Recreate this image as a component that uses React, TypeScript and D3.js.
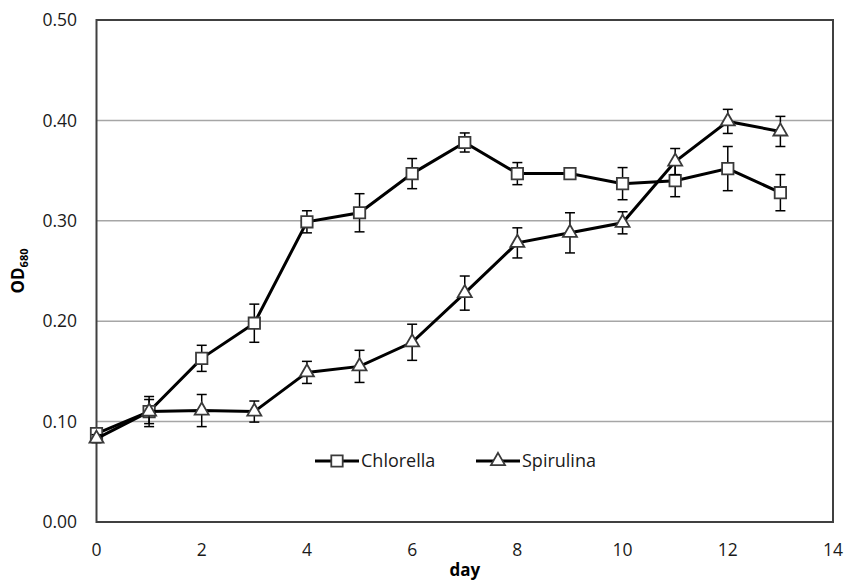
import React from "react";
import * as d3 from "d3";

const days = [0, 1, 2, 3, 4, 5, 6, 7, 8, 9, 10, 11, 12, 13];
const chlorella = [0.088, 0.11, 0.163, 0.198, 0.299, 0.308, 0.347, 0.378, 0.347, 0.347, 0.337, 0.34, 0.352, 0.328];
const chlorellaErr = [0.004, 0.012, 0.013, 0.019, 0.011, 0.019, 0.015, 0.0095, 0.011, 0.003, 0.016, 0.016, 0.022, 0.018];
const spirulina = [0.083, 0.11, 0.111, 0.11, 0.149, 0.155, 0.179, 0.228, 0.278, 0.288, 0.298, 0.359, 0.399, 0.389];
const spirulinaErr = [0.004, 0.015, 0.016, 0.0105, 0.011, 0.016, 0.018, 0.017, 0.015, 0.02, 0.011, 0.013, 0.012, 0.015];
const xTicks = [0, 2, 4, 6, 8, 10, 12, 14];
const yTicks = [0, 0.1, 0.2, 0.3, 0.4, 0.5];

const W = 847;
const H = 583;
const margin = { left: 96.5, right: 14, top: 20, bottom: 61 };
const font = "'Open Sans', sans-serif";

const x = d3.scaleLinear().domain([0, 14]).range([margin.left, W - margin.right]);
const y = d3.scaleLinear().domain([0, 0.5]).range([H - margin.bottom, margin.top]);

const squarePath = d3.symbol(d3.symbolSquare, 130)()!;
const trianglePath = d3.symbol(d3.symbolTriangle, 85)()!;

type Series = { name: string; values: number[]; errs: number[]; marker: string };
const series: Series[] = [
  { name: "Chlorella", values: chlorella, errs: chlorellaErr, marker: squarePath },
  { name: "Spirulina", values: spirulina, errs: spirulinaErr, marker: trianglePath },
];

export default function App() {
  const line = d3
    .line<number>()
    .x((_, i) => x(days[i]))
    .y((d) => y(d));

  const [x0, x1] = x.range();
  const [y0, y1] = y.range();

  return (
    <svg width={W} height={H} style={{ position: "absolute", left: 0, top: 0, background: "#fff" }}>
      {/* gridlines */}
      {yTicks.filter((t) => t > 0 && t < 0.5).map((t) => (
        <line key={t} x1={x0} x2={x1} y1={y(t)} y2={y(t)} stroke="#a6a6a6" strokeWidth={1.5} />
      ))}
      {/* frame */}
      <rect x={x0} y={y1} width={x1 - x0} height={y0 - y1} fill="none" stroke="#404040" strokeWidth={2} />

      {/* y tick labels */}
      {yTicks.map((t) => (
        <text key={t} x={77} y={y(t)} dy="0.35em" textAnchor="end" fontFamily={font} fontSize={17.5} fill="#1a1a1a">
          {t.toFixed(2)}
        </text>
      ))}
      {/* x tick labels */}
      {xTicks.map((t) => (
        <text key={t} x={x(t)} y={556} textAnchor="middle" fontFamily={font} fontSize={17.5} fill="#1a1a1a">
          {t}
        </text>
      ))}

      {/* axis titles */}
      <text x={(x0 + x1) / 2} y={576} textAnchor="middle" fontFamily={font} fontSize={17} fontWeight="bold" fill="#000">
        day
      </text>
      <text transform={`translate(24, ${(y0 + y1) / 2}) rotate(-90)`} textAnchor="middle" fontFamily={font} fontSize={17} fontWeight="bold" fill="#000">
        OD<tspan fontSize={11} dy={4}>680</tspan>
      </text>

      {series.map((s) => (
        <g key={s.name}>
          {/* error bars */}
          {s.values.map((v, i) => {
            const cx = x(days[i]);
            const top = y(v + s.errs[i]);
            const bot = y(v - s.errs[i]);
            return (
              <g key={i} stroke="#000" strokeWidth={1.5}>
                <line x1={cx} x2={cx} y1={top} y2={bot} />
                <line x1={cx - 5} x2={cx + 5} y1={top} y2={top} />
                <line x1={cx - 5} x2={cx + 5} y1={bot} y2={bot} />
              </g>
            );
          })}
          <path d={line(s.values)!} fill="none" stroke="#000" strokeWidth={3} />
          {s.values.map((v, i) => (
            <path
              key={i}
              d={s.marker}
              transform={`translate(${x(days[i])},${y(v)})`}
              fill="#fff"
              stroke="#3a3a3a"
              strokeWidth={1.8}
            />
          ))}
        </g>
      ))}

      {/* legend */}
      {series.map((s, i) => {
        const lx = 315 + i * 161;
        const ly = 461;
        return (
          <g key={s.name}>
            <line x1={lx} x2={lx + 44} y1={ly} y2={ly} stroke="#000" strokeWidth={3} />
            <path d={s.marker} transform={`translate(${lx + 22},${ly})`} fill="#fff" stroke="#3a3a3a" strokeWidth={1.8} />
            <text x={lx + 46} y={ly} dy="0.35em" fontFamily={font} fontSize={18} fill="#1a1a1a">
              {s.name}
            </text>
          </g>
        );
      })}
    </svg>
  );
}
